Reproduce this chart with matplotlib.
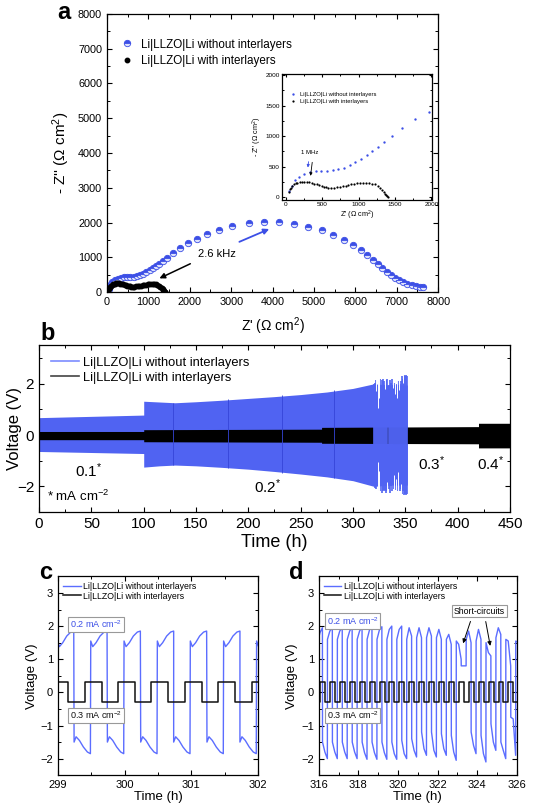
import numpy as np
import matplotlib.pyplot as plt
from matplotlib.ticker import MultipleLocator

BLUE_M = '#3c4fe6'   # nyquist markers
BLUE_F = '#5063f2'   # cycling band
BLUE_L = '#5b6dff'   # zoomed voltage traces
BLACK = '#111111'

plt.rcParams.update({
    'font.family': ['Liberation Sans', 'DejaVu Sans'],
    'mathtext.default': 'regular',
    'xtick.direction': 'in',
    'ytick.direction': 'in',
    'xtick.top': True,
    'ytick.right': True,
    'axes.linewidth': 0.9,
})

# ── (a) Nyquist data ───────────────────────────────────────────────
blue_zr = [47, 78, 124, 186, 256, 333, 411, 488, 566, 643, 721, 798, 876, 953, 1031,
           1109, 1186, 1264, 1349, 1457, 1597, 1767, 1961, 2178, 2426, 2698, 3031, 3434,
           3783, 4155, 4518, 4864, 5186, 5467, 5725, 5950, 6127, 6287, 6416, 6537, 6649,
           6754, 6858, 6955, 7051, 7156, 7252, 7357, 7461, 7558, 7638]
blue_zi = [97, 193, 280, 338, 377, 406, 425, 425, 425, 444, 464, 483, 531, 580, 628,
           696, 754, 821, 899, 995, 1130, 1275, 1401, 1536, 1671, 1797, 1913, 1981,
           2010, 2019, 1952, 1876, 1780, 1636, 1493, 1349, 1206, 1062, 938, 823, 699,
           584, 488, 411, 344, 287, 239, 201, 172, 153, 153]
black_zr = [40, 55, 70, 90, 110, 135, 160, 190, 220, 250, 285, 320, 355, 390, 425,
            460, 490, 520, 550, 585, 620, 660, 700, 740, 780, 820, 860, 900, 940, 980,
            1020, 1060, 1100, 1140, 1180, 1220, 1260, 1290, 1320, 1345, 1365, 1380, 1392, 1400]
black_zi = [95, 130, 160, 190, 212, 230, 242, 250, 254, 255, 253, 248, 238, 225, 210,
            195, 183, 172, 165, 160, 158, 160, 165, 172, 180, 190, 200, 210, 220, 228,
            233, 236, 236, 232, 224, 210, 185, 160, 125, 90, 60, 35, 15, 5]

# ── (b) long-term cycling envelopes ────────────────────────────────
b_blue_t = [0, 100, 100, 115, 130, 150, 175, 200, 225, 250, 275, 300, 320, 335, 352]
b_blue_hi = [0.68, 0.78, 1.32, 1.29, 1.26, 1.30, 1.36, 1.43, 1.50, 1.58, 1.68, 1.82, 2.00, 1.95, 1.95]
b_blue_lo = [-0.64, -0.72, -1.25, -1.20, -1.17, -1.20, -1.26, -1.33, -1.42, -1.52, -1.63,
             -1.78, -2.00, -1.95, -1.95]
b_spike_t = [320, 321, 322, 323, 324, 325, 326, 327, 328, 329, 330, 331, 332, 333, 334, 335,
             336, 337, 338, 339, 340, 341, 342, 343, 344, 345, 346, 347, 348, 349, 350, 351, 352]
b_spike_hi = [2.00, 2.05, 2.15, 1.95, 1.95, 2.10, 2.20, 1.95, 2.15, 2.20, 2.10, 1.95, 2.15, 2.20,
              1.95, 2.15, 2.05, 2.20, 1.95, 2.05, 1.95, 2.00, 1.95, 2.10, 1.95, 2.00, 2.10,
              2.30, 2.20, 2.35, 2.30, 2.35, 2.30]
b_spike_lo = [-2.00, -2.05, -2.10, -1.95, -1.95, -2.20, -2.20, -1.95, -2.25, -2.20, -2.15, -2.20,
              -2.25, -2.20, -2.10, -2.25, -2.00, -2.20, -1.95, -2.10, -1.95, -2.15, -1.95, -2.20,
              -1.95, -2.20, -2.10, -2.30, -2.20, -2.35, -2.30, -2.35, -2.30]
# white gaps inside the band where the trace is missing
b_gap_t = [322.5, 323.5, 324.5, 331.0, 338.0, 340.5, 342.5, 344.0, 347.5]
b_gap_hi = [2.3, 2.3, 2.3, 2.3, 2.3, 2.3, 2.3, 2.3, 2.4]
b_gap_lo = [1.70, 1.05, 1.45, 1.80, 1.85, 1.60, 1.45, 1.75, 2.05]
b_gap2_t = [324.0, 325.0, 332.5, 339.5, 341.5, 343.5, 346.0]
b_gap2_hi = [-1.05, -1.40, -1.85, -1.55, -1.70, -1.45, -1.90]
b_gap2_lo = [-2.4, -2.4, -2.4, -2.4, -2.4, -2.4, -2.4]
b_rest_t = [128, 181, 232, 282]
b_rest_hi = [1.26, 1.40, 1.56, 1.74]
b_rest_lo = [-1.17, -1.30, -1.48, -1.67]
b_black_t = [0, 100, 100, 270, 270, 420, 420, 450]
b_black_hi = [0.14, 0.14, 0.21, 0.23, 0.30, 0.33, 0.46, 0.46]
b_black_lo = [-0.18, -0.18, -0.26, -0.28, -0.32, -0.34, -0.50, -0.50]

# ── (c) 299-302 h ──────────────────────────────────────────────────
c_blue_switch = [298.99, 299.24, 299.49, 299.74, 299.99, 300.24, 300.49,
                 300.735, 300.985, 301.235, 301.485, 301.73, 301.98]
c_shape_dt = [0.0, 0.03, 0.08, 0.14, 0.20, 0.245]
c_pos_shape = [1.55, 1.38, 1.50, 1.70, 1.82, 1.85]
c_neg_shape = [-1.50, -1.34, -1.45, -1.65, -1.80, -1.85]
c_black_t = [299.0, 299.155, 299.40, 299.655, 299.90, 300.155, 300.40,
             300.655, 300.905, 301.16, 301.405, 301.66, 301.91, 302.0]
c_black_v = [0.3, -0.3, 0.3, -0.3, 0.3, -0.3, 0.3, -0.3, 0.3, -0.3, 0.3, -0.3, 0.3, 0.3]

# ── (d) 316-326 h ──────────────────────────────────────────────────
d_pos_t = [315.94, 316.44, 316.94, 317.44, 317.94, 318.44, 318.94, 319.44, 319.94, 320.44,
           320.94, 321.44, 321.94, 322.44, 322.94, 323.44, 323.94, 324.44, 324.94, 325.44, 325.94]
d_neg_t = [316.19, 316.69, 317.19, 317.69, 318.19, 318.69, 319.19, 319.69, 320.19, 320.69,
           321.19, 321.69, 322.19, 322.69, 323.19, 323.69, 324.19, 324.69, 325.19, 325.69, 326.19]
d_pos_start = [1.50, 1.60, 1.60, 1.60, 1.60, 1.60, 1.60, 1.60, 1.60, 1.60, 1.65,
               1.65, 1.65, 1.60, 1.55, 1.60, 1.55, 1.50, 1.65, 1.60, 1.55]
d_pos_mid = [1.80, 1.85, 1.85, 1.85, 1.85, 1.88, 1.88, 1.90, 1.90, 1.95, 1.95,
             1.95, 1.90, 1.75, 1.45, 1.85, 1.90, 1.20, 1.95, 1.55, 1.50]
d_pos_end = [1.95, 1.95, 1.95, 1.97, 1.97, 1.97, 1.98, 2.00, 2.00, 1.70, 1.65,
             1.70, 1.60, 1.45, 1.00, 1.50, 1.60, 1.10, 1.75, 0.80, 1.40]
d_neg_start = [-1.50, -1.50, -1.50, -1.50, -1.50, -1.50, -1.50, -1.50, -1.45, -1.40, -1.20,
               -1.20, -1.25, -1.30, 0.80, -1.20, -1.30, -0.95, -1.50, -0.75, -0.75]
d_neg_mid = [-1.80, -1.80, -1.80, -1.80, -1.82, -1.82, -1.82, -1.85, -1.85, -1.75, -1.70,
             -1.75, -1.70, -1.80, 0.80, -1.60, -1.85, -1.50, -1.75, -0.80, -0.80]
d_neg_end = [-2.00, -2.00, -2.00, -2.00, -2.02, -2.02, -2.02, -2.02, -2.00, -1.95, -1.90,
             -1.95, -1.90, -2.05, 0.80, -1.85, -2.10, -1.75, -2.00, -1.90, -1.90]
d_black_t = [316.0, 316.07, 316.32, 316.57, 316.82, 317.07, 317.32, 317.57, 317.82, 318.07,
             318.32, 318.57, 318.82, 319.07, 319.32, 319.57, 319.82, 320.07, 320.32, 320.57,
             320.82, 321.07, 321.32, 321.57, 321.82, 322.07, 322.32, 322.57, 322.82, 323.07,
             323.32, 323.57, 323.82, 324.07, 324.32, 324.57, 324.82, 325.07, 325.32, 325.57,
             325.82, 326.0]
d_black_v = [-0.3, 0.3, -0.3, 0.3, -0.3, 0.3, -0.3, 0.3, -0.3, 0.3, -0.3, 0.3, -0.3, 0.3,
             -0.3, 0.3, -0.3, 0.3, -0.3, 0.3, -0.3, 0.3, -0.3, 0.3, -0.3, 0.3, -0.3, 0.3,
             -0.3, 0.3, -0.3, 0.3, -0.3, 0.3, -0.3, 0.3, -0.3, 0.3, -0.3, 0.3, -0.3, -0.3]

LBL_NO = 'Li|LLZO|Li without interlayers'
LBL_WITH = 'Li|LLZO|Li with interlayers'


def ticks(ax, xmaj, xmin, ymaj, ymin, size=8, length=3.5):
    ax.xaxis.set_major_locator(MultipleLocator(xmaj))
    ax.xaxis.set_minor_locator(MultipleLocator(xmin))
    ax.yaxis.set_major_locator(MultipleLocator(ymaj))
    ax.yaxis.set_minor_locator(MultipleLocator(ymin))
    ax.tick_params(which='major', length=length, labelsize=size, width=0.8)
    ax.tick_params(which='minor', length=length * 0.6, width=0.7)


def box(ax, x, y, s, color):
    ax.text(x, y, s, color=color, fontsize=6.5, ha='left', va='center',
            bbox=dict(boxstyle='square,pad=0.2', fc='white', ec='#999999', lw=0.8))


fig = plt.figure(figsize=(5.43, 8.05), dpi=100)

# ══════════════════════════════════════════════════════════════════
# (a) impedance
# ══════════════════════════════════════════════════════════════════
ax = fig.add_axes([0.197, 0.637, 0.610, 0.346])
ax.plot(blue_zr, blue_zi, 'o', ms=4.6, fillstyle='top', mfc=BLUE_M, mfcalt='#dde1fc',
        mec=BLUE_M, mew=0.6, label=LBL_NO)
ax.plot(black_zr, black_zi, 'o', ms=3.2, color='k', label=LBL_WITH)
ax.set_xlim(0, 8000)
ax.set_ylim(0, 8000)
ticks(ax, 1000, 500, 1000, 500, size=7.8)
ax.set_xlabel("Z' (Ω cm$^2$)", fontsize=10, labelpad=6)
ax.set_ylabel("- Z'' (Ω cm$^2$)", fontsize=11, labelpad=4)
ax.legend(loc='upper left', bbox_to_anchor=(0.0, 0.94), frameon=False, fontsize=8.4,
          handletextpad=0.2, labelspacing=0.35, borderaxespad=0.3, markerscale=1.0)
ax.text(2653, 1091, '2.6 kHz', fontsize=8, ha='center', va='center')
ax.annotate('', xy=(3980, 1847), xytext=(3136, 1416),
            arrowprops=dict(arrowstyle='-|>', color=BLUE_M, lw=1.3, mutation_scale=8))
ax.annotate('', xy=(1206, 364), xytext=(2074, 852),
            arrowprops=dict(arrowstyle='-|>', color='k', lw=1.1, mutation_scale=8))
fig.text(0.105, 0.999, 'a', fontsize=17, fontweight='bold', ha='left', va='top')

axi = fig.add_axes([0.519, 0.752, 0.277, 0.156])
sel = [i for i, z in enumerate(blue_zr) if z <= 2000]
axi.plot([blue_zr[i] for i in sel], [blue_zi[i] for i in sel], 'o', ms=1.7,
         color=BLUE_M, mew=0, label=LBL_NO)
axi.plot(black_zr, black_zi, 'o', ms=1.6, color='k', mew=0, label=LBL_WITH)
axi.set_xlim(-55, 2010)
axi.set_ylim(-38, 2015)
ticks(axi, 500, 250, 500, 250, size=4.6, length=2)
axi.tick_params(pad=1.5)
axi.set_xlabel("Z' (Ω cm$^2$)", fontsize=5.2, labelpad=1.5)
axi.set_ylabel("- Z'' (Ω cm$^2$)", fontsize=5.2, labelpad=1)
axi.legend(loc='upper left', bbox_to_anchor=(0.0, 0.9), frameon=False, fontsize=4.2,
           handletextpad=0.2, labelspacing=0.3, markerscale=1.0)
axi.text(326, 699, '1 MHz', fontsize=4.3, ha='center', va='bottom')
axi.annotate('', xy=(298, 442), xytext=(317, 628),
             arrowprops=dict(arrowstyle='-|>', color=BLUE_M, lw=0.6, mutation_scale=4))
axi.annotate('', xy=(335, 306), xytext=(367, 617),
             arrowprops=dict(arrowstyle='-|>', color='k', lw=0.6, mutation_scale=4))

# ══════════════════════════════════════════════════════════════════
# (b) galvanostatic cycling 0-450 h
# ══════════════════════════════════════════════════════════════════
ax = fig.add_axes([0.072, 0.364, 0.867, 0.207])
ax.fill_between(b_blue_t, b_blue_lo, b_blue_hi, color=BLUE_F, lw=0)
ax.vlines(b_spike_t, b_spike_lo, b_spike_hi, color=BLUE_F, lw=1.2)
ax.vlines(b_gap_t, b_gap_lo, b_gap_hi, color='white', lw=0.7)
ax.vlines(b_gap2_t, b_gap2_lo, b_gap2_hi, color='white', lw=0.7)
ax.vlines(b_rest_t, b_rest_lo, b_rest_hi, color='#3545d8', lw=0.6)
ax.fill_between(b_black_t, b_black_lo, b_black_hi, color='black', lw=0)
ax.plot([], [], color='#7d8cff', lw=1.2, label=LBL_NO)
ax.plot([], [], color='#444444', lw=1.2, label=LBL_WITH)
ax.set_xlim(0, 450)
ax.set_ylim(-3, 3.5)
ticks(ax, 50, 25, 2, 1, size=11)
ax.set_xlabel('Time (h)', fontsize=13, labelpad=2)
ax.set_ylabel('Voltage (V)', fontsize=12)
ax.yaxis.set_label_coords(-0.036, 0.5)
ax.legend(loc='upper left', frameon=False, fontsize=9.3, handlelength=2.2,
          handletextpad=0.3, labelspacing=0.2, borderaxespad=0.5)
ax.text(47, -1.4, '0.1$^{*}$', fontsize=11, ha='center', va='center')
ax.text(218, -2.0, '0.2$^{*}$', fontsize=11, ha='center', va='center')
ax.text(375, -1.1, '0.3$^{*}$', fontsize=11, ha='center', va='center')
ax.text(432, -1.1, '0.4$^{*}$', fontsize=11, ha='center', va='center')
ax.text(37, -2.4, '* mA cm$^{-2}$', fontsize=9.5, ha='center', va='center')
fig.text(0.075, 0.600, 'b', fontsize=17, fontweight='bold', ha='left', va='top')

# ══════════════════════════════════════════════════════════════════
# (c) 299-302 h zoom
# ══════════════════════════════════════════════════════════════════
ax = fig.add_axes([0.107, 0.037, 0.368, 0.247])
ct, cv = [], []
for i, ts in enumerate(c_blue_switch):
    shape = c_pos_shape if i % 2 == 0 else c_neg_shape
    for dt, val in zip(c_shape_dt, shape):
        ct.append(ts + dt)
        cv.append(val)
ax.plot(ct, cv, color=BLUE_L, lw=1.0, label=LBL_NO)
ax.step(c_black_t, c_black_v, where='post', color=BLACK, lw=1.1, label=LBL_WITH)
ax.set_xlim(299, 302)
ax.set_ylim(-2.5, 3.5)
ticks(ax, 1, 0.5, 1, 0.5, size=8)
ax.set_xlabel('Time (h)', fontsize=9.5, labelpad=1)
ax.set_ylabel('Voltage (V)', fontsize=9.5, labelpad=2)
ax.legend(loc='upper left', frameon=False, fontsize=6.3, handlelength=2.0,
          handletextpad=0.3, labelspacing=0.1, borderaxespad=0.2)
box(ax, 299.18, 2.05, '0.2 mA cm$^{-2}$', BLUE_M)
box(ax, 299.18, -0.7, '0.3 mA cm$^{-2}$', BLACK)
fig.text(0.072, 0.303, 'c', fontsize=17, fontweight='bold', ha='left', va='top')

# ══════════════════════════════════════════════════════════════════
# (d) 316-326 h zoom
# ══════════════════════════════════════════════════════════════════
ax = fig.add_axes([0.587, 0.037, 0.365, 0.247])
dt_, dv_ = [], []
for k in range(len(d_pos_t)):
    dt_ += [d_pos_t[k], d_pos_t[k] + 0.12, d_pos_t[k] + 0.245]
    dv_ += [d_pos_start[k], d_pos_mid[k], d_pos_end[k]]
    dt_ += [d_neg_t[k], d_neg_t[k] + 0.12, d_neg_t[k] + 0.245]
    dv_ += [d_neg_start[k], d_neg_mid[k], d_neg_end[k]]
ax.plot(dt_, dv_, color=BLUE_L, lw=1.0, label=LBL_NO)
ax.step(d_black_t, d_black_v, where='post', color=BLACK, lw=1.1, label=LBL_WITH)
ax.set_xlim(316, 326)
ax.set_ylim(-2.5, 3.5)
ticks(ax, 2, 1, 1, 0.5, size=8)
ax.set_xlabel('Time (h)', fontsize=9.5, labelpad=1)
ax.set_ylabel('Voltage (V)', fontsize=9.5, labelpad=2)
ax.legend(loc='upper left', frameon=False, fontsize=6.3, handlelength=2.0,
          handletextpad=0.3, labelspacing=0.1, borderaxespad=0.2)
box(ax, 316.4, 2.15, '0.2 mA cm$^{-2}$', BLUE_M)
box(ax, 316.4, -0.7, '0.3 mA cm$^{-2}$', BLACK)
ax.text(324.1, 2.45, 'Short-circuits', fontsize=6.3, ha='center', va='center',
        bbox=dict(boxstyle='square,pad=0.2', fc='white', ec='#999999', lw=0.8))
ax.annotate('', xy=(323.24, 1.40), xytext=(323.7, 2.22),
            arrowprops=dict(arrowstyle='-|>', color='k', lw=0.7, mutation_scale=6))
ax.annotate('', xy=(324.68, 1.32), xytext=(324.4, 2.22),
            arrowprops=dict(arrowstyle='-|>', color='k', lw=0.7, mutation_scale=6))
fig.text(0.533, 0.303, 'd', fontsize=17, fontweight='bold', ha='left', va='top')

fig.savefig('out.png', dpi=100)
